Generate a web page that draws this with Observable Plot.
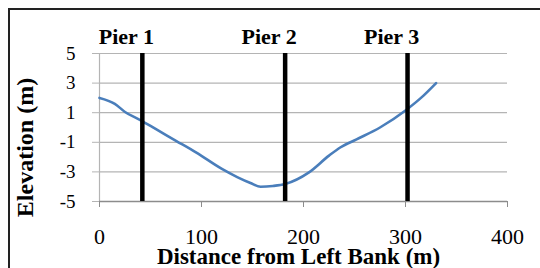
<!DOCTYPE html>
<html>
<head>
<meta charset="utf-8">
<script src="https://cdn.jsdelivr.net/npm/d3@7"></script>
<script src="https://cdn.jsdelivr.net/npm/@observablehq/plot@0.6"></script>
<style>
  html, body { margin: 0; padding: 0; background: #fff; }
  #wrap { position: relative; width: 540px; height: 268px; overflow: hidden; }
  #box { position: absolute; left: 8px; top: 8px; width: 600px; height: 400px; border: 2px solid #222; box-sizing: border-box; }
  #chart { position: absolute; left: 0; top: 0; }
</style>
</head>
<body>
<div id="wrap"><div id="box"></div><div id="chart"></div></div>
<script>
const distance  = [0, 15, 25, 40, 55, 75, 95, 120, 135, 148, 158, 170, 182, 205, 225, 236, 252, 275, 300, 316, 330];
const elevation = [2.0, 1.6, 1.05, 0.5, -0.1, -0.9, -1.7, -2.8, -3.35, -3.75, -4.0, -3.95, -3.82, -3.05, -1.9, -1.35, -0.8, 0.0, 1.15, 2.05, 3.0];
const pierNames = ["Pier 1", "Pier 2", "Pier 3"];
const pierX = [42, 182, 302];
const xTicks = [0, 100, 200, 300, 400];
const yTicks = [5, 3, 1, -1, -3, -5];
const xLabel = "Distance from Left Bank (m)";
const yLabel = "Elevation (m)";

const profile = distance.map((d, i) => ({distance: d, elevation: elevation[i]}));
const piers = pierNames.map((name, i) => ({name, x: pierX[i]}));

const chart = Plot.plot({
  width: 540,
  height: 268,
  marginLeft: 99,
  marginRight: 33,
  marginTop: 53,
  marginBottom: 67,
  style: {fontFamily: "'Liberation Serif', 'Times New Roman', serif", background: "transparent", color: "#000"},
  x: {domain: [0, 400]},
  y: {domain: [-5, 5]},
  marks: [
    Plot.gridY(yTicks, {stroke: "#b4b4b4", strokeOpacity: 1, strokeWidth: 1.2}),
    Plot.ruleX([0], {y1: -5, y2: 5, stroke: "#b4b4b4", strokeWidth: 1.2}),
    Plot.axisY(yTicks, {tickSize: 7, tickPadding: 17, stroke: "#b4b4b4", fill: "#000", fontSize: 19, label: null, tickFormat: d => String(d).replace("\u2212", "-")}),
    Plot.ruleY([-5], {stroke: "#8c8c8c", strokeWidth: 1.4}),
    Plot.axisX(xTicks, {tickSize: 6, tickPadding: 21, stroke: "#8c8c8c", fill: "#000", fontSize: 22, label: null}),
    Plot.line(profile, {x: "distance", y: "elevation", stroke: "#4a7ebb", strokeWidth: 2.6, curve: "monotone-x"}),
    Plot.ruleX(piers, {x: "x", y1: -5, y2: 5, stroke: "#000", strokeWidth: 4.5}),
    Plot.text(piers, {x: "x", text: "name", frameAnchor: "top", dy: -17, dx: -16, lineAnchor: "middle", fontWeight: "bold", fontSize: 22, fill: "#000"}),
    Plot.text([xLabel], {frameAnchor: "bottom", textAnchor: "middle", dy: 55, dx: -5, lineAnchor: "middle", fontWeight: "bold", fontSize: 23, fill: "#000"}),
    Plot.text([yLabel], {frameAnchor: "left", textAnchor: "middle", dx: -74, dy: 20, rotate: -90, lineAnchor: "middle", fontWeight: "bold", fontSize: 24, fill: "#000"})
  ]
});
document.getElementById("chart").appendChild(chart);
</script>
</body>
</html>
